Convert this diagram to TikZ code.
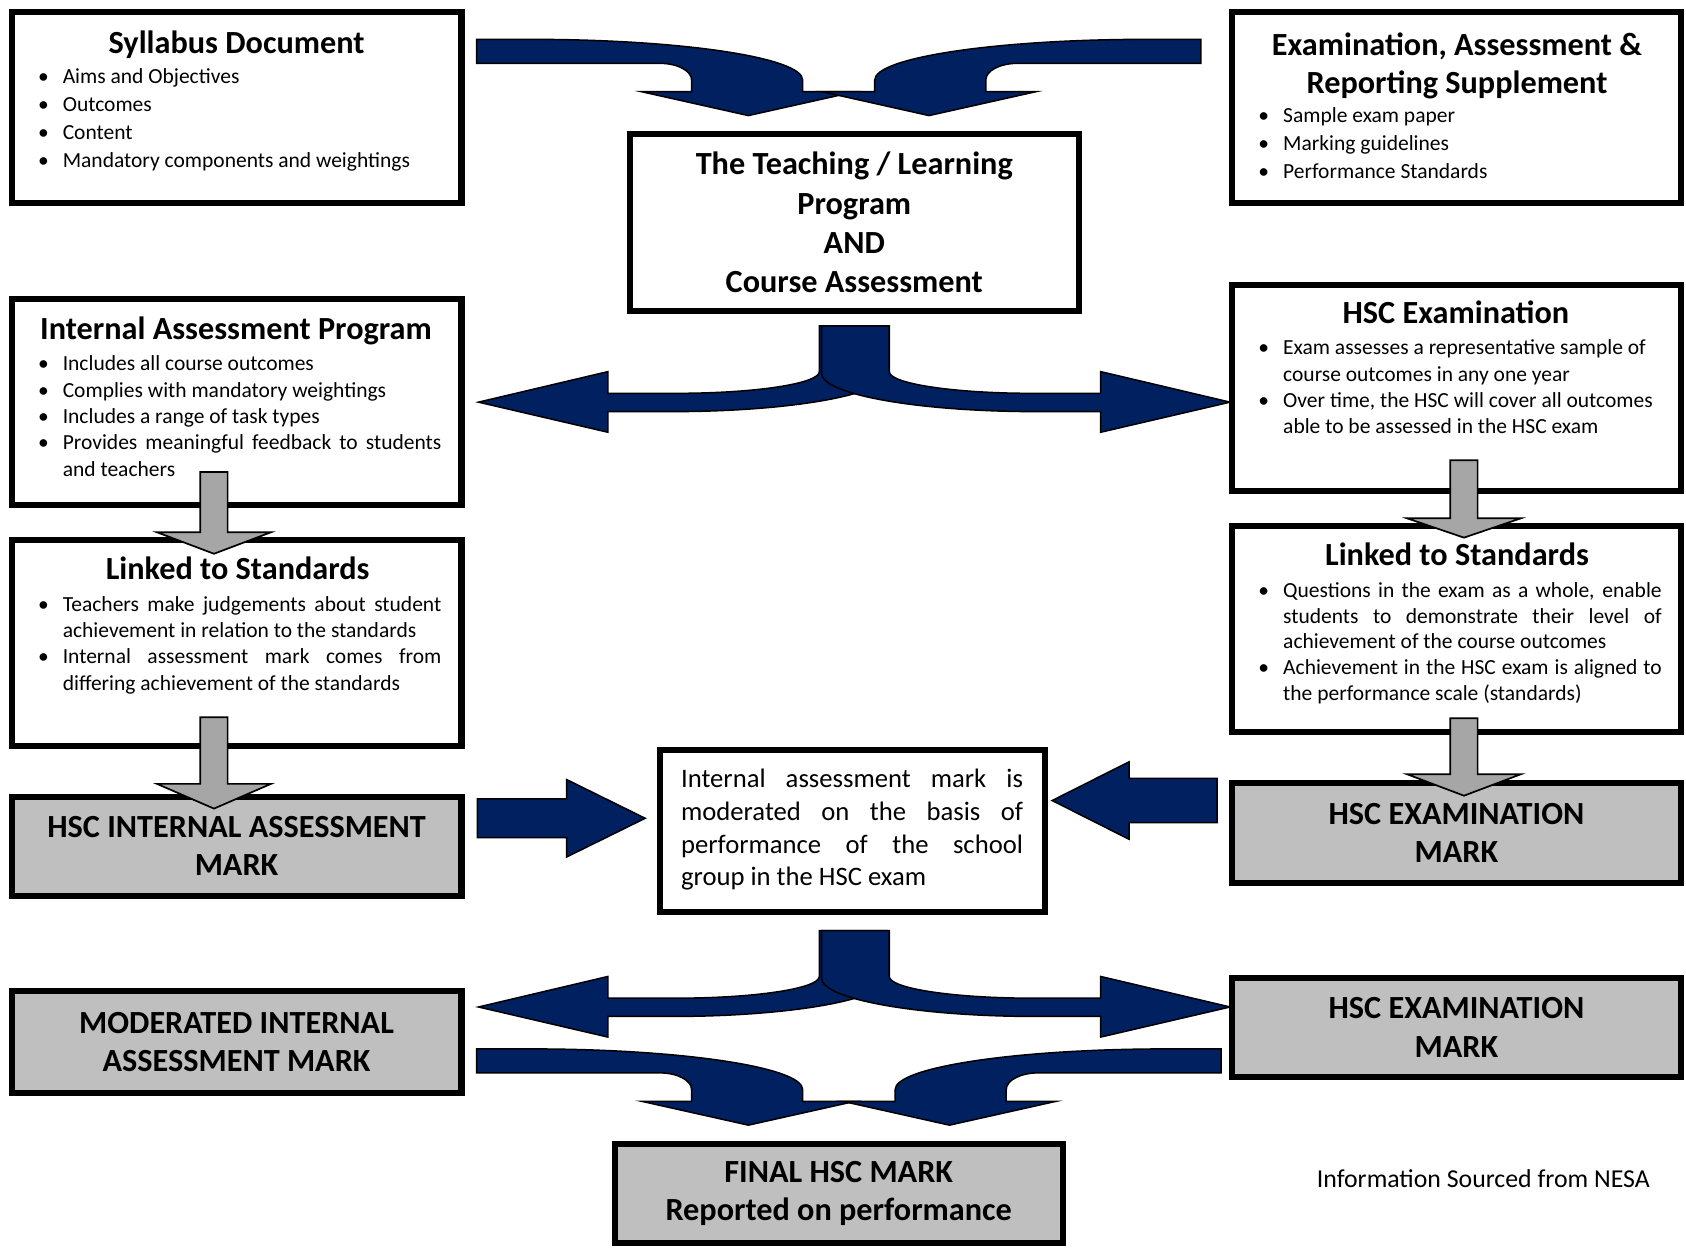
\documentclass[tikz,border=0pt]{standalone}
\usepackage{fontspec}
\setmainfont{Carlito}
\usepackage{tikz}
\usetikzlibrary{positioning}
\usetikzlibrary{calc}

\definecolor{navy}{RGB}{0,32,96}
\definecolor{markgrey}{RGB}{191,191,191}
\definecolor{stepgrey}{RGB}{166,166,166}

\tolerance=9999
\hbadness=10000

\newcommand{\bitem}[1]{\par\noindent\hangindent=11.5pt\hangafter=1\makebox[11.5pt][l]{\textbullet}\strut#1\par}

\tikzset{
  box/.style={draw, line width=2.8pt, inner sep=0pt},
  markbox/.style={box, fill=markgrey, align=center, font=\fontsize{15}{17.8}\selectfont\bfseries},
  heading/.style={inner sep=0pt, font=\fontsize{15}{17.8}\selectfont\bfseries},
  points/.style={anchor=north west, inner sep=0pt, text width=187.5pt, align=justify, font=\fontsize{10}{12.25}\selectfont},
  bluearrow/.style={fill=navy, draw=black, line width=0.7pt, line join=miter},
  greyarrow/.style={fill=stepgrey, draw=black, line width=0.8pt},
}

\begin{document}
\begin{tikzpicture}[x=0.5pt, y=-0.5pt]
  \useasboundingbox (0,0) rectangle (1568,1161.6);

  \node[box, minimum width=209.2pt, minimum height=89.2pt] (syl) at (220,100) {};
  \node[heading, anchor=base] (syl-t) at (220,50) {Syllabus Document};
  \node[points, font=\fontsize{10}{13}\selectfont] (syl-l) at (35,51.3) {%
    \bitem{Aims and Objectives}
    \bitem{Outcomes}
    \bitem{Content}
    \bitem{Mandatory components and weightings}};

  \node[box, minimum width=208.7pt, minimum height=89.2pt] (ers) at (1354.5,100) {};
  \node[heading, anchor=north, align=center] (ers-t) at (1355,30) {Examination, Assessment \&\\Reporting Supplement};
  \node[points, font=\fontsize{10}{13}\selectfont] (ers-l) at (1170,87.6) {%
    \bitem{Sample exam paper}
    \bitem{Marking guidelines}
    \bitem{Performance Standards}};

  \node[box, minimum width=208.7pt, minimum height=82.2pt, align=center,
        font=\fontsize{15}{18.3}\selectfont\bfseries] (tlp) at (794.5,207)
        {The Teaching / Learning\\Program\\AND\\Course Assessment};

  \node[box, minimum width=209.2pt, minimum height=95.7pt] (iap) at (220,373.5) {};
  \node[heading, anchor=base] (iap-t) at (219.5,316) {Internal Assessment Program};
  \node[points] (iap-l) at (35,320) {%
    \bitem{Includes all course outcomes}
    \bitem{Complies with mandatory weightings}
    \bitem{Includes a range of task types}
    \bitem{Provides meaningful feedback to students\linebreak and teachers}};

  \node[box, minimum width=209.2pt, minimum height=96.2pt] (lsl) at (220,598) {};
  \node[heading, anchor=base] (lsl-t) at (221,539) {Linked to Standards};
  \node[points] (lsl-l) at (35,543.5) {%
    \bitem{Teachers make judgements about student\linebreak achievement in relation to the standards}
    \bitem{Internal assessment mark comes from\linebreak differing achievement of the standards}};

  \node[markbox, minimum width=209.2pt, minimum height=46.2pt] (iam) at (220,787) {HSC INTERNAL ASSESSMENT\\MARK};

  \node[box, minimum width=208.7pt, minimum height=95.7pt] (hsc) at (1354.5,360.5) {};
  \node[heading, anchor=base] (hsc-t) at (1354,301) {HSC Examination};
  \node[points] (hsc-l) at (1170,305) {%
    \bitem{Exam assesses a representative sample of\newline course outcomes in any one year}
    \bitem{Over time, the HSC will cover all outcomes\newline able to be assessed in the HSC exam}};

  \node[box, minimum width=208.7pt, minimum height=96.2pt] (lsr) at (1354.5,585) {};
  \node[heading, anchor=base] (lsr-t) at (1355,526) {Linked to Standards};
  \node[points, font=\fontsize{10}{12}\selectfont] (lsr-l) at (1170,531) {%
    \bitem{Questions in the exam as a whole, enable\linebreak students to demonstrate their level of\linebreak achievement of the course outcomes}
    \bitem{Achievement in the HSC exam is aligned to\linebreak the performance scale (standards)}};

  \node[markbox, minimum width=208.7pt, minimum height=46.7pt] (hem) at (1354.5,774.5) {HSC EXAMINATION\\MARK};

  \node[box, minimum width=179.2pt, minimum height=75.2pt] (mod) at (793,773) {};
  \node[anchor=north west, inner sep=0pt, text width=159pt, align=justify,
        font=\fontsize{12.4}{15.2}\selectfont] (mod-t) at (633,711)
        {\strut Internal assessment mark is\linebreak moderated on the basis of\linebreak performance of the school\linebreak group in the HSC exam};

  \node[markbox, minimum width=209.2pt, minimum height=47.2pt] (mia) at (220,969) {MODERATED INTERNAL\\ASSESSMENT MARK};
  \node[markbox, minimum width=208.7pt, minimum height=45.7pt] (hemb) at (1354.5,955.5) {HSC EXAMINATION\\MARK};
  \node[markbox, minimum width=208.2pt, minimum height=46.2pt] (fin) at (780,1110) {FINAL HSC MARK\\Reported on performance};

  \node[anchor=base, inner sep=0pt, font=\fontsize{12}{14}\selectfont] (src) at (1379.5,1104) {Information Sourced from NESA};

  \foreach \dy/\m in {0/1560, 938.9/1579}
    \foreach \s/\o in {1/0, -1/\m}
      \draw[bluearrow, shift={(\o,\dy)}, xscale=\s] (443.3,36.6) -- (493.5,36.6)
        .. controls (633.2,36.6) and (746.5,53.5) .. (746.5,74.4) -- (746.5,85.3)
        -- (795.3,85.3) -- (696,107.5) -- (596.7,85.3) -- (643.2,85.3) -- (643.2,74.4)
        .. controls (643.2,65.8) and (630,58.9) .. (613.8,58.9) -- (443.3,58.9) -- cycle;

  \foreach \dy in {0, 562.5}
    \foreach \s/\o in {-1/1589, 1/0}
      \draw[bluearrow, shift={(\o,\dy)}, xscale=\s] (764,303) -- (827,303) -- (827,345.6)
        .. controls (827,356.8) and (886.6,365.8) .. (960,365.8) -- (1023.6,365.8)
        -- (1023.6,345.6) -- (1144,374) -- (1023.6,402) -- (1023.6,382.8) -- (964,382.8)
        .. controls (853.6,382.8) and (764,366.9) .. (764,347) -- cycle;

  \draw[bluearrow] (444,743) -- (527,743) -- (527,725) -- (600,761) -- (527,797) -- (527,779) -- (444,779) -- cycle;
  \draw[bluearrow] (1132,724) -- (1050,724) -- (1050,708.5) -- (978.5,744.5) -- (1050,780.5) -- (1050,765) -- (1132,765) -- cycle;

  \foreach \gx/\gtop/\gbase/\gtip in {199/439/495/515, 199/667/729/752, 1361.5/428/482/500, 1361.5/668/720/740}
    \draw[greyarrow] (\gx-12.7,\gtop) -- (\gx+12.7,\gtop) -- (\gx+12.7,\gbase) -- (\gx+53,\gbase)
      -- (\gx,\gtip) -- (\gx-53,\gbase) -- (\gx-12.7,\gbase) -- cycle;
\end{tikzpicture}
\end{document}
